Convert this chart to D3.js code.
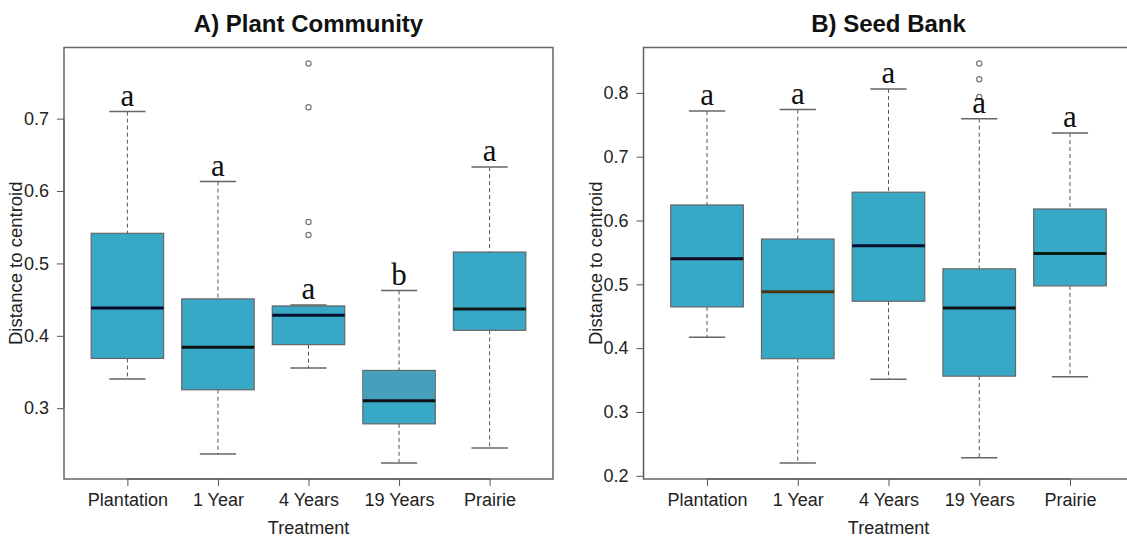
<!DOCTYPE html>
<html>
<head>
<meta charset="utf-8">
<script src="https://cdn.jsdelivr.net/npm/d3@7"></script>
<style>
  body { margin: 0; background: #fff; }
  svg { display: block; font-family: "Liberation Sans", Arial, sans-serif; }
</style>
</head>
<body>
<svg id="chart" width="1127" height="540"></svg>
<script>
// groups on the x axis
var groups = ["Plantation", "1 Year", "4 Years", "19 Years", "Prairie"];

// A) plant community box stats
var plantLow  = [0.3402, 0.2368, 0.3554, 0.2243, 0.2451];
var plantQ1   = [0.3688, 0.3255, 0.3878, 0.2784, 0.4076];
var plantMed  = [0.4385, 0.3841, 0.4284, 0.3102, 0.4372];
var plantQ3   = [0.5416, 0.4510, 0.4413, 0.3522, 0.5157];
var plantHigh = [0.7097, 0.6131, 0.4427, 0.4626, 0.6331];
var plantOut  = [[], [], [0.7762, 0.7157, 0.5573, 0.5393], [], []];
var plantLetters = ["a", "a", "a", "b", "a"];
var plantTicks = [0.3, 0.4, 0.5, 0.6, 0.7];

// B) seed bank box stats
var seedLow  = [0.4169, 0.2200, 0.3514, 0.2283, 0.3552];
var seedQ1   = [0.4646, 0.3835, 0.4735, 0.3561, 0.4976];
var seedMed  = [0.5400, 0.4882, 0.5605, 0.4630, 0.5485];
var seedQ3   = [0.6244, 0.5710, 0.6444, 0.5243, 0.6181];
var seedHigh = [0.7717, 0.7738, 0.8063, 0.7596, 0.7371];
var seedOut  = [[], [], [], [0.8461, 0.8214, 0.7937], []];
var seedLetters = ["a", "a", "a", "a", "a"];
var seedTicks = [0.2, 0.3, 0.4, 0.5, 0.6, 0.7, 0.8];

var svg = d3.select("#chart");
var boxFill = "#37a9c7";

function makeRows(low, q1, med, q3, high, out, letters) {
  return groups.map(function(g, i) {
    return {name: g, pos: i + 1, low: low[i], q1: q1[i], med: med[i], q3: q3[i],
            high: high[i], out: out[i], letter: letters[i]};
  });
}

// one boxplot panel, R style
function drawPanel(cfg) {
  var rows = cfg.rows;
  var all = [];
  rows.forEach(function(d) { all.push(d.low, d.high); d.out.forEach(function(o) { all.push(o); }); });
  var lo = d3.min(all), hi = d3.max(all), pad = (hi - lo) * 0.04;

  var x = d3.scaleLinear().domain([0.3, 5.7]).range([cfg.left, cfg.right]);
  var y = d3.scaleLinear().domain([lo - pad, hi + pad]).range([cfg.bottom, cfg.top]);
  var bw = (x(2) - x(1)) * 0.8;

  var g = svg.append("g");

  // plot frame
  g.append("rect")
    .attr("x", cfg.left).attr("y", cfg.top)
    .attr("width", cfg.right - cfg.left).attr("height", cfg.bottom - cfg.top)
    .attr("fill", "none").attr("stroke", "#666").attr("stroke-width", 1.5);

  var box = g.selectAll(".box").data(rows).enter().append("g").attr("class", "box");

  // whiskers
  box.append("line")
    .attr("x1", function(d) { return x(d.pos); }).attr("x2", function(d) { return x(d.pos); })
    .attr("y1", function(d) { return y(d.high); }).attr("y2", function(d) { return y(d.q3); })
    .attr("stroke", "#555").attr("stroke-dasharray", "4,3");
  box.append("line")
    .attr("x1", function(d) { return x(d.pos); }).attr("x2", function(d) { return x(d.pos); })
    .attr("y1", function(d) { return y(d.q1); }).attr("y2", function(d) { return y(d.low); })
    .attr("stroke", "#555").attr("stroke-dasharray", "4,3");

  // caps
  ["high", "low"].forEach(function(k) {
    box.append("line")
      .attr("x1", function(d) { return x(d.pos) - bw / 4; })
      .attr("x2", function(d) { return x(d.pos) + bw / 4; })
      .attr("y1", function(d) { return y(d[k]); })
      .attr("y2", function(d) { return y(d[k]); })
      .attr("stroke", "#666").attr("stroke-width", 1.5);
  });

  // box
  box.append("rect")
    .attr("x", function(d) { return x(d.pos) - bw / 2; })
    .attr("y", function(d) { return y(d.q3); })
    .attr("width", bw)
    .attr("height", function(d) { return y(d.q1) - y(d.q3); })
    .attr("fill", boxFill).attr("stroke", "#666").attr("stroke-width", 1.2);

  // darker upper half where the original has it
  box.filter(function(d, i) { return cfg.shadeUpper && cfg.shadeUpper[i]; })
    .append("rect")
    .attr("x", function(d) { return x(d.pos) - bw / 2 + 0.6; })
    .attr("y", function(d) { return y(d.q3) + 0.6; })
    .attr("width", bw - 1.2)
    .attr("height", function(d) { return y(d.med) - y(d.q3); })
    .attr("fill", "#469fbb");

  // median
  box.append("line")
    .attr("x1", function(d) { return x(d.pos) - bw / 2; })
    .attr("x2", function(d) { return x(d.pos) + bw / 2; })
    .attr("y1", function(d) { return y(d.med); }).attr("y2", function(d) { return y(d.med); })
    .attr("stroke", function(d, i) { return cfg.medColors[i]; }).attr("stroke-width", 3);

  // outliers
  box.selectAll("circle").data(function(d) { return d.out.map(function(o) { return {pos: d.pos, v: o}; }); })
    .enter().append("circle")
    .attr("cx", function(d) { return x(d.pos); })
    .attr("cy", function(d) { return y(d.v); })
    .attr("r", 2.6).attr("fill", "none").attr("stroke", "#777").attr("stroke-width", 1.2);

  // significance letters
  box.append("text")
    .attr("x", function(d) { return x(d.pos); })
    .attr("y", function(d) { return y(d.high) - 6; })
    .attr("text-anchor", "middle")
    .style("font-family", "'Liberation Serif', 'Times New Roman', serif")
    .style("font-size", "31px")
    .attr("fill", "#111")
    .text(function(d) { return d.letter; });

  // y axis
  var yAxis = g.append("g").attr("transform", "translate(" + cfg.left + ",0)")
    .call(d3.axisLeft(y).tickValues(cfg.ticks).tickFormat(d3.format(".1f")).tickSize(7).tickSizeOuter(0).tickPadding(8));
  yAxis.select(".domain").attr("d", "M0," + y(cfg.ticks[0]) + "V" + y(cfg.ticks[cfg.ticks.length - 1]));

  // x axis
  var xAxis = g.append("g").attr("transform", "translate(0," + cfg.bottom + ")")
    .call(d3.axisBottom(x).tickValues([1, 2, 3, 4, 5]).tickFormat(function(d) { return groups[d - 1]; })
      .tickSize(7).tickSizeOuter(0).tickPadding(7));
  xAxis.select(".domain").attr("d", "M" + x(1) + ",0H" + x(5));

  [yAxis, xAxis].forEach(function(a) {
    a.selectAll("line").attr("stroke", "#555");
    a.select(".domain").attr("stroke", "#555");
    a.selectAll("text").style("font-size", "18px").attr("fill", "#222")
      .style("font-family", "'Liberation Sans', Arial, sans-serif");
  });

  // titles
  var cx = (cfg.left + cfg.right) / 2;
  g.append("text").attr("x", cx).attr("y", 32).attr("text-anchor", "middle")
    .style("font-size", "24px").style("font-weight", "bold").attr("fill", "#111")
    .text(cfg.title);
  g.append("text").attr("x", cx).attr("y", 534).attr("text-anchor", "middle")
    .style("font-size", "18px").attr("fill", "#222").text("Treatment");
  g.append("text")
    .attr("transform", "translate(" + (cfg.left - 42) + "," + ((cfg.top + cfg.bottom) / 2) + ") rotate(-90)")
    .attr("text-anchor", "middle")
    .style("font-size", "18.5px").attr("fill", "#222").text("Distance to centroid");
}

drawPanel({
  title: "A) Plant Community",
  rows: makeRows(plantLow, plantQ1, plantMed, plantQ3, plantHigh, plantOut, plantLetters),
  ticks: plantTicks,
  left: 64, right: 553, top: 47.5, bottom: 479,
  medColors: ["#08082e", "#111", "#06102e", "#111", "#101818"],
  shadeUpper: [false, false, false, true, false]
});

drawPanel({
  title: "B) Seed Bank",
  rows: makeRows(seedLow, seedQ1, seedMed, seedQ3, seedHigh, seedOut, seedLetters),
  ticks: seedTicks,
  left: 643.5, right: 1133.5, top: 47.5, bottom: 479,
  medColors: ["#140826", "#4a360c", "#060e2a", "#111", "#081a12"]
});
</script>
</body>
</html>
